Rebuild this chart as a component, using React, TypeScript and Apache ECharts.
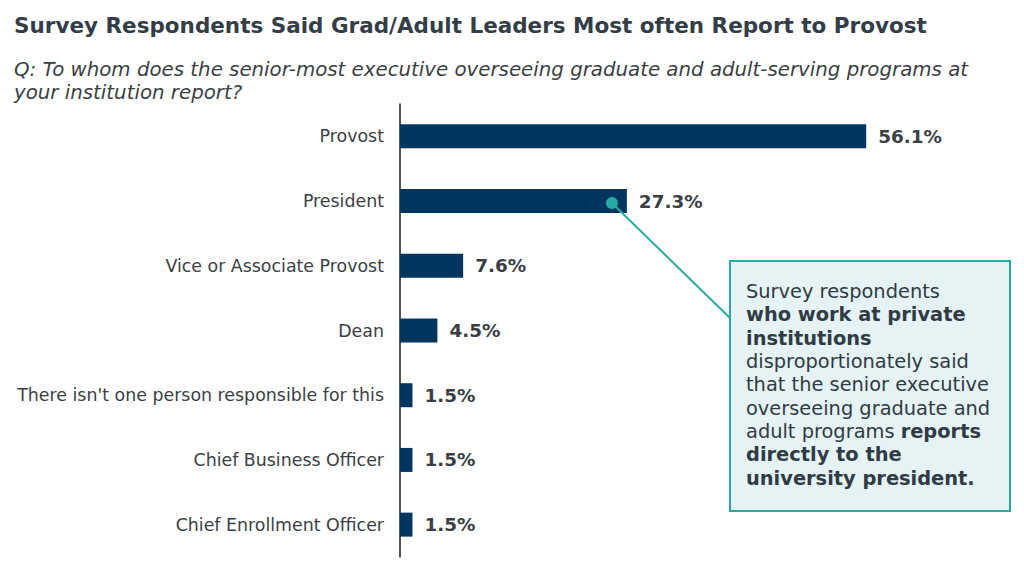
import React, { useEffect, useRef } from "react";
import * as echarts from "echarts";

const categories = [
  "Provost",
  "President",
  "Vice or Associate Provost",
  "Dean",
  "There isn't one person responsible for this",
  "Chief Business Officer",
  "Chief Enrollment Officer",
];
const values = [56.1, 27.3, 7.6, 4.5, 1.5, 1.5, 1.5];
const titleText = "Survey Respondents Said Grad/Adult Leaders Most often Report to Provost";
const subtitleLines = [
  "Q: To whom does the senior-most executive overseeing graduate and adult-serving programs at",
  "your institution report?",
];
const calloutLines = [
  "{n|Survey respondents}",
  "{b|who work at private}",
  "{b|institutions}",
  "{n|disproportionately said}",
  "{n|that the senior executive}",
  "{n|overseeing graduate and}",
  "{n|adult programs }{b|reports}",
  "{b|directly to the}",
  "{b|university president.}",
];
const calloutAnchorValue = 25.5;
const calloutAnchorCategory = "President";

const FONT = "'DejaVu Sans', Verdana, sans-serif";
const TEXT = "#3a3f45";
const BAR = "#02365f";
const TEAL = "#26aaa4";

export default function App() {
  const ref = useRef<HTMLDivElement>(null);
  useEffect(() => {
    document.body.style.margin = "0";
    if (!ref.current) return;
    const chart = echarts.init(ref.current, undefined, { renderer: "svg" });
    const option: any = {
      animation: false,
      backgroundColor: "#ffffff",
      grid: { left: 400, top: 104, bottom: 16, width: 498.6, containLabel: false },
      xAxis: {
        type: "value",
        min: 0,
        max: 60,
        show: false,
      },
      yAxis: {
        type: "category",
        data: categories,
        inverse: true,
        axisLine: { show: true, lineStyle: { color: "#1a1a1a", width: 1.5 } },
        axisTick: { show: false },
        axisLabel: { color: TEXT, fontFamily: FONT, fontSize: 17.4, margin: 16 },
      },
      series: [
        {
          type: "bar",
          data: values,
          barWidth: 24,
          itemStyle: { color: BAR },
          label: {
            show: true,
            position: "right",
            distance: 12,
            formatter: (p: any) => p.value.toFixed(1) + "%",
            color: TEXT,
            fontFamily: FONT,
            fontWeight: "bold",
            fontSize: 18.4,
          },
        },
      ],
      graphic: [],
    };
    chart.setOption(option);
    const pt = chart.convertToPixel({ gridIndex: 0 }, [calloutAnchorValue, calloutAnchorCategory]) as number[];
    const boxX = 730, boxY = 261, boxW = 280, boxH = 250;
    chart.setOption({
      graphic: [
        {
          type: "text",
          left: 14,
          top: 14,
          style: { text: titleText, font: `bold 21.5px ${FONT}`, fill: "#333d47" },
        },
        {
          type: "text",
          left: 14,
          top: 58,
          style: {
            text: subtitleLines.join("\n"),
            font: `italic 19.8px ${FONT}`,
            lineHeight: 23,
            fill: TEXT,
          },
        },
        {
          type: "line",
          shape: { x1: pt[0], y1: pt[1] + 2, x2: boxX, y2: 318 },
          style: { stroke: TEAL, lineWidth: 2 },
          z: 10,
        },
        {
          type: "circle",
          shape: { cx: pt[0], cy: pt[1] + 2, r: 6 },
          style: { fill: TEAL },
          z: 11,
        },
        {
          type: "rect",
          shape: { x: boxX, y: boxY, width: boxW, height: boxH },
          style: { fill: "#e6f3f4", stroke: TEAL, lineWidth: 2 },
          z: 10,
        },
        {
          type: "text",
          x: 746,
          y: 280,
          z: 11,
          style: {
            text: calloutLines.join("\n"),
            fill: "#2f3b45",
            rich: {
              n: { fontFamily: FONT, fontSize: 19.4, lineHeight: 23.3, color: "#2f3b45" },
              b: { fontFamily: FONT, fontSize: 19.4, fontWeight: "bold", lineHeight: 23.3, color: "#2f3b45" },
            },
          },
        },
      ],
    });
    return () => chart.dispose();
  }, []);
  return <div ref={ref} style={{ width: 1024, height: 573 }} />;
}
